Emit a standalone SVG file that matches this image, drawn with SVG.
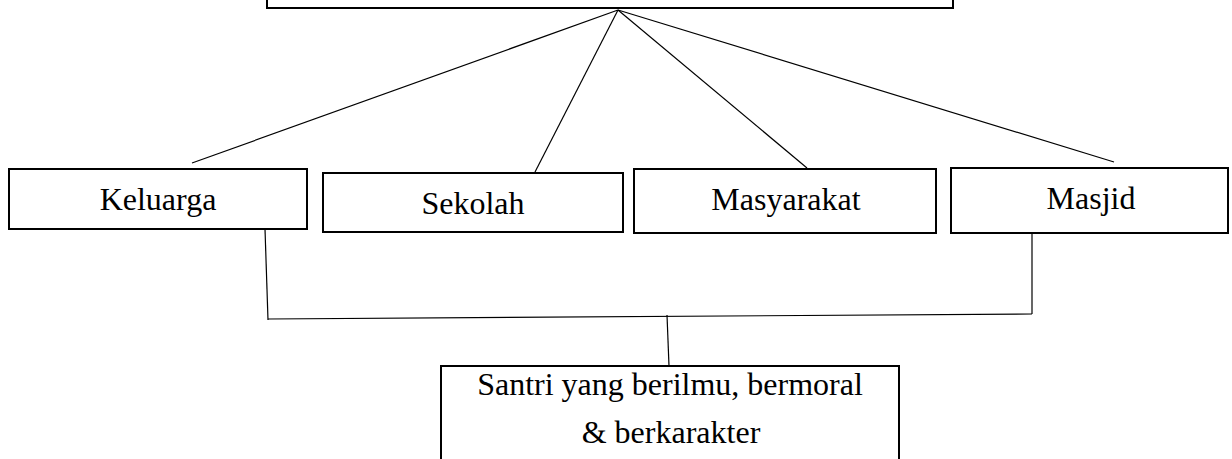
<svg xmlns="http://www.w3.org/2000/svg" width="1232" height="459" viewBox="0 0 1232 459">
<style>
.box{fill:#fff;stroke:#000;stroke-width:2}
.lbl{font-family:"Liberation Serif","Times New Roman",serif;font-size:32px;fill:#000;text-anchor:middle}
.con{stroke:#000;stroke-width:1.2;fill:none}
</style>
<rect width="1232" height="459" fill="#fff"/>
<g id="connectors">
<line class="con" x1="618" y1="10" x2="192" y2="163"/>
<line class="con" x1="618" y1="10" x2="535" y2="172"/>
<line class="con" x1="618" y1="10" x2="807" y2="168"/>
<line class="con" x1="618" y1="10" x2="1114" y2="162"/>
<line class="con" x1="265" y1="229" x2="268" y2="320"/>
<line class="con" x1="268" y1="319" x2="1032" y2="314"/>
<line class="con" x1="1032" y1="233" x2="1032" y2="314"/>
<line class="con" x1="667" y1="315" x2="669" y2="366"/>
</g>
<g id="node-top">
<rect class="box" x="267" y="-10" width="686" height="18"/>
</g>
<g id="node-keluarga">
<rect class="box" x="9" y="169" width="298" height="60"/>
<text class="lbl" x="158" y="210">Keluarga</text>
</g>
<g id="node-sekolah">
<rect class="box" x="323" y="173" width="300" height="59"/>
<text class="lbl" x="473" y="214">Sekolah</text>
</g>
<g id="node-masyarakat">
<rect class="box" x="634" y="169" width="302" height="64"/>
<text class="lbl" x="786" y="210">Masyarakat</text>
</g>
<g id="node-masjid">
<rect class="box" x="951" y="168" width="277" height="65"/>
<text class="lbl" x="1091" y="209">Masjid</text>
</g>
<g id="node-santri">
<rect class="box" x="441" y="366" width="458" height="110"/>
<text class="lbl" x="670" y="395">Santri yang berilmu, bermoral</text>
<text class="lbl" x="671" y="443">&amp; berkarakter</text>
</g>
</svg>
